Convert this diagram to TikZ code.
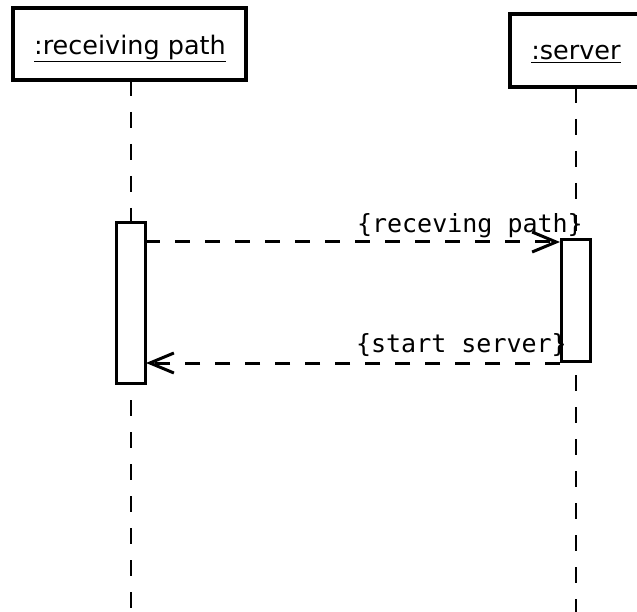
\documentclass[tikz,border=0pt]{standalone}
\usepackage{fontspec}
\setmainfont{DejaVu Sans}
\newfontfamily\labelmono{DejaVu Sans Mono}
\usetikzlibrary{arrows.meta}
\begin{document}
\begin{tikzpicture}[x=1pt,y=-1pt,
  objbox/.style={draw, line width=3.5pt, fill=white},
  objname/.style={inner sep=0pt, font=\fontsize{25.5}{29}\selectfont},
  lifeline/.style={line width=2pt, dash pattern=on 16pt off 16pt},
  actbox/.style={draw, line width=3pt, fill=white},
  msg/.style={line width=3pt, dash pattern=on 15pt off 15pt,
    -{Straight Barb[length=24pt, width=20pt, line width=3pt]}},
  msglabel/.style={font=\labelmono\fontsize{25}{29}\selectfont, anchor=south east, inner sep=0pt}]
\useasboundingbox (0,0) rectangle (637,612);

% object heads
\draw[objbox] (13,8) rectangle (246,80);
\node[objname] (rp) at (130,48) {\underline{:receiving path}};
\draw[objbox] (510,14) rectangle (645,87);
\node[objname] (sv) at (576,54) {\underline{:server}};

% lifelines
\coordinate (rpTop) at (131,80);
\coordinate (rpEnd) at (131,612);
\coordinate (svTop) at (576,87);
\coordinate (svEnd) at (576,612);
\draw[lifeline] (rpTop) -- (rpEnd);
\draw[lifeline] (svTop) -- (svEnd);

% activations
\draw[actbox] (116,223) rectangle (145,383);
\draw[actbox] (561,240) rectangle (590,361);
\coordinate (a1s) at (145,242);
\coordinate (a1e) at (560,242);
\coordinate (a2s) at (560,363);
\coordinate (a2e) at (146,363);

% messages
\draw[msg] (a1s) -- (a1e);
\node[msglabel] (m1) at (583,238) {\{receving path\}};
\draw[msg] (a2s) -- (a2e);
\node[msglabel] (m2) at (567,357) {\{start server\}};
\end{tikzpicture}
\end{document}
